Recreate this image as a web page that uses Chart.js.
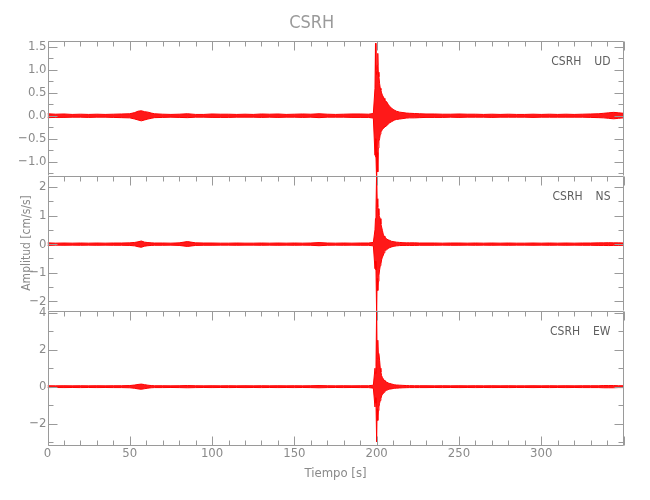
<!DOCTYPE html>
<html>
<head>
<meta charset="utf-8">
<script src="https://cdn.jsdelivr.net/npm/chart.js@4/dist/chart.umd.min.js"></script>
<style>
  html, body { margin: 0; padding: 0; background: #ffffff; }
  #wrap { position: relative; width: 650px; height: 500px; }
  #wrap canvas { position: absolute; left: 0; top: 0; }
</style>
</head>
<body>
<div id="wrap">
  <canvas id="c1" width="650" height="500"></canvas>
  <canvas id="c2" width="650" height="500"></canvas>
  <canvas id="c3" width="650" height="500"></canvas>
</div>
<script>
// ---------- DATA ----------
const station = 'CSRH';
const components = ['UD', 'NS', 'EW'];

// time samples [s] (envelope sampling of the trace)
const times = [
  0,5,10,15,20,25,30,35,40,45,
  50,53,55,57,59,61,63,65,70,75,
  80,85,90,95,100,105,110,115,120,125,
  130,135,140,145,150,155,160,165,170,175,
  180,185,190,195,198,199,199.3,199.6,200,200.3,
  200.7,201,201.4,201.8,202.2,202.6,203,203.5,204,204.5,
  205,206,207,208,209,210,211,212,214,216,
  218,220,223,226,230,235,240,245,250,255,
  260,265,270,275,280,285,290,295,300,305,
  310,315,320,325,330,335,338,341,344,347,
  350
];

// UD component: upper / lower envelope [cm/s/s]
const udUpper = [
  0.045,0.035,0.04,0.03,0.035,0.03,0.035,0.03,0.035,0.04,
  0.045,0.07,0.1,0.11,0.09,0.08,0.06,0.045,0.035,0.03,
  0.035,0.045,0.03,0.03,0.04,0.035,0.035,0.03,0.035,0.03,
  0.04,0.035,0.04,0.03,0.035,0.04,0.035,0.045,0.035,0.03,
  0.035,0.04,0.04,0.035,0.05,0.6,1.58,1.0,0.9,1.1,
  1.36,0.95,0.85,0.7,0.6,0.56,0.5,0.45,0.42,0.38,
  0.33,0.31,0.25,0.2,0.17,0.14,0.12,0.1,0.08,0.07,
  0.06,0.055,0.05,0.045,0.04,0.04,0.035,0.035,0.04,0.035,
  0.035,0.03,0.035,0.03,0.035,0.03,0.03,0.035,0.03,0.035,
  0.03,0.035,0.03,0.035,0.04,0.045,0.055,0.065,0.075,0.065,
  0.055
];
const udLower = [
  -0.04,-0.035,-0.035,-0.03,-0.03,-0.035,-0.03,-0.03,-0.035,-0.04,
  -0.045,-0.07,-0.09,-0.11,-0.09,-0.07,-0.055,-0.04,-0.035,-0.03,
  -0.035,-0.04,-0.03,-0.03,-0.035,-0.035,-0.035,-0.03,-0.03,-0.03,
  -0.035,-0.03,-0.035,-0.03,-0.03,-0.035,-0.03,-0.04,-0.03,-0.03,
  -0.03,-0.035,-0.035,-0.035,-0.05,-0.86,-0.5,-0.9,-1.45,-0.8,
  -1.22,-0.7,-0.55,-0.5,-0.4,-0.35,-0.33,-0.3,-0.28,-0.25,
  -0.25,-0.22,-0.18,-0.15,-0.13,-0.11,-0.09,-0.08,-0.07,-0.06,
  -0.05,-0.045,-0.045,-0.04,-0.035,-0.035,-0.035,-0.03,-0.035,-0.03,
  -0.03,-0.03,-0.035,-0.03,-0.03,-0.03,-0.03,-0.035,-0.03,-0.03,
  -0.03,-0.03,-0.03,-0.03,-0.035,-0.04,-0.045,-0.055,-0.065,-0.055,
  -0.045
];

// NS component
const nsUpper = [
  0.045,0.035,0.04,0.035,0.04,0.035,0.04,0.035,0.04,0.04,
  0.045,0.06,0.08,0.11,0.07,0.055,0.045,0.04,0.04,0.035,
  0.045,0.09,0.045,0.04,0.04,0.035,0.035,0.04,0.035,0.035,
  0.04,0.035,0.04,0.035,0.04,0.035,0.04,0.055,0.04,0.035,
  0.04,0.035,0.04,0.04,0.06,0.5,0.9,1.2,2.6,1.59,
  1.3,1.24,1.0,0.95,0.89,0.7,0.6,0.48,0.35,0.28,
  0.25,0.18,0.15,0.13,0.1,0.09,0.08,0.07,0.06,0.05,
  0.045,0.045,0.045,0.04,0.04,0.04,0.035,0.04,0.04,0.035,
  0.04,0.035,0.04,0.035,0.04,0.035,0.035,0.04,0.035,0.04,
  0.035,0.04,0.035,0.04,0.04,0.045,0.045,0.05,0.045,0.045,
  0.04
];
const nsLower = [
  -0.045,-0.035,-0.04,-0.035,-0.04,-0.035,-0.04,-0.035,-0.04,-0.04,
  -0.045,-0.06,-0.09,-0.11,-0.07,-0.055,-0.045,-0.04,-0.04,-0.035,
  -0.045,-0.08,-0.045,-0.04,-0.04,-0.035,-0.035,-0.04,-0.035,-0.035,
  -0.04,-0.035,-0.04,-0.035,-0.04,-0.035,-0.04,-0.055,-0.04,-0.035,
  -0.04,-0.035,-0.04,-0.04,-0.06,-0.86,-0.6,-0.9,-2.5,-1.2,
  -1.62,-1.3,-1.09,-0.9,-0.75,-0.69,-0.55,-0.45,-0.4,-0.3,
  -0.22,-0.2,-0.15,-0.12,-0.1,-0.08,-0.07,-0.06,-0.05,-0.045,
  -0.045,-0.045,-0.045,-0.04,-0.04,-0.04,-0.035,-0.04,-0.04,-0.035,
  -0.04,-0.035,-0.04,-0.035,-0.04,-0.035,-0.035,-0.04,-0.035,-0.04,
  -0.035,-0.04,-0.035,-0.04,-0.04,-0.045,-0.045,-0.05,-0.045,-0.045,
  -0.04
];

// EW component
const ewUpper = [
  0.05,0.045,0.05,0.045,0.05,0.045,0.05,0.045,0.05,0.05,
  0.06,0.09,0.12,0.14,0.11,0.08,0.06,0.05,0.05,0.045,
  0.05,0.06,0.05,0.045,0.05,0.045,0.05,0.045,0.05,0.045,
  0.05,0.045,0.05,0.045,0.05,0.045,0.05,0.06,0.05,0.045,
  0.05,0.045,0.05,0.05,0.08,1.0,0.7,1.1,4.3,1.5,
  2.52,1.8,1.79,1.43,1.0,0.79,0.6,0.5,0.43,0.35,
  0.3,0.25,0.2,0.17,0.15,0.12,0.1,0.09,0.08,0.07,
  0.06,0.055,0.05,0.05,0.05,0.045,0.05,0.045,0.05,0.045,
  0.05,0.045,0.05,0.045,0.05,0.045,0.045,0.05,0.045,0.05,
  0.045,0.05,0.045,0.05,0.05,0.05,0.06,0.06,0.06,0.05,
  0.05
];
const ewLower = [
  -0.05,-0.045,-0.05,-0.045,-0.05,-0.045,-0.05,-0.045,-0.05,-0.05,
  -0.06,-0.09,-0.12,-0.14,-0.11,-0.08,-0.06,-0.05,-0.05,-0.045,
  -0.05,-0.06,-0.05,-0.045,-0.05,-0.045,-0.05,-0.045,-0.05,-0.045,
  -0.05,-0.045,-0.05,-0.045,-0.05,-0.045,-0.05,-0.06,-0.05,-0.045,
  -0.05,-0.045,-0.05,-0.05,-0.08,-1.1,-0.6,-0.9,-3.0,-1.2,
  -1.83,-1.3,-1.1,-0.9,-0.75,-0.65,-0.5,-0.42,-0.38,-0.3,
  -0.25,-0.2,-0.16,-0.13,-0.12,-0.1,-0.09,-0.08,-0.07,-0.06,
  -0.055,-0.05,-0.05,-0.05,-0.05,-0.045,-0.05,-0.045,-0.05,-0.045,
  -0.05,-0.045,-0.05,-0.045,-0.05,-0.045,-0.045,-0.05,-0.045,-0.05,
  -0.045,-0.05,-0.045,-0.05,-0.05,-0.05,-0.06,-0.06,-0.06,-0.05,
  -0.05
];

// tick labels
const timeTicks = [0, 50, 100, 150, 200, 250, 300];
const udTicks = [-1.0, -0.5, 0.0, 0.5, 1.0, 1.5];
const nsTicks = [-2, -1, 0, 1, 2];
const ewTicks = [-2, 0, 2, 4];

// ---------- STYLE ----------
const FONT = '"DejaVu Sans Condensed", "Liberation Sans", sans-serif';
const AXIS_COLOR = '#9a9a9a';
const TEXT_COLOR = '#8a8a8a';
const LABEL_COLOR = '#5e5e5e';
const TRACE = '#ff0000';
const LEFT_W = 47.5, RIGHT_PAD = 26.5;

const fmtDec = v => (v < 0 ? '\u2212' : '') + Math.abs(v).toFixed(1);
const fmtInt = v => (v < 0 ? '\u2212' : '') + Math.abs(v).toFixed(0);

const framePlugin = {
  id: 'frame',
  afterDatasetsDraw(chart, args, o) {
    const {ctx, chartArea: a, scales: {x, y}} = chart;
    ctx.save();
    ctx.strokeStyle = AXIS_COLOR;
    ctx.lineWidth = 1;
    const L = Math.round(a.left) + 0.5, R = Math.round(a.right) - 0.5;
    const T = Math.round(a.top) + 0.5, B = Math.round(a.bottom) - 0.5;
    ctx.beginPath();
    ctx.moveTo(L, T); ctx.lineTo(R, T); ctx.lineTo(R, B);
    if (o.bottomTicks) ctx.lineTo(L, B); else ctx.moveTo(L, B);
    ctx.lineTo(L, T);
    // x ticks: minor every 10 s, major every 50 s
    for (let v = 0; v <= 350; v += 10) {
      const px = Math.round(x.getPixelForValue(v)) + 0.5;
      const len = (v % 50 === 0) ? 9 : 5;
      ctx.moveTo(px, T); ctx.lineTo(px, T + len);
      if (o.bottomTicks) { ctx.moveTo(px, B); ctx.lineTo(px, B - len); }
    }
    // y ticks
    const kMin = Math.ceil(y.min / o.minor - 1e-9), kMax = Math.floor(y.max / o.minor + 1e-9);
    for (let k = kMin; k <= kMax; k++) {
      const v = k * o.minor;
      const py = Math.round(y.getPixelForValue(v)) + 0.5;
      const major = o.majors.some(m => Math.abs(m - v) < 1e-6);
      const len = major ? 9 : 5;
      ctx.moveTo(L, py); ctx.lineTo(L + len, py);
      ctx.moveTo(R, py); ctx.lineTo(R - len, py);
    }
    ctx.stroke();
    // component label, e.g. "CSRH   UD"
    ctx.fillStyle = LABEL_COLOR;
    ctx.font = '12px ' + FONT;
    ctx.textBaseline = 'middle';
    ctx.textAlign = 'right';
    const xr = a.right - 13;
    ctx.fillText(o.comp, xr, a.top + 21);
    const w = ctx.measureText(o.comp).width;
    ctx.fillText(station, xr - w - 13, a.top + 21);
    ctx.restore();
  }
};

function makePanel(id, cfg) {
  const up = times.map((t, i) => ({x: t, y: cfg.upper[i]}));
  const lo = times.map((t, i) => ({x: t, y: cfg.lower[i]}));
  return new Chart(document.getElementById(id), {
    type: 'line',
    data: {
      datasets: [
        {label: cfg.comp + ' max', data: up, borderColor: TRACE, backgroundColor: 'rgba(255,0,0,0.9)',
         borderWidth: 1, pointRadius: 0, tension: 0, fill: '+1'},
        {label: cfg.comp + ' min', data: lo, borderColor: TRACE, backgroundColor: 'rgba(255,0,0,0.9)',
         borderWidth: 1, pointRadius: 0, tension: 0, fill: false}
      ]
    },
    options: {
      responsive: false,
      animation: false,
      events: [],
      layout: {padding: {left: 0, right: RIGHT_PAD, top: cfg.padTop, bottom: 0}},
      plugins: {
        legend: {display: false},
        tooltip: {enabled: false},
        title: cfg.title ? {
          display: true, text: station, color: AXIS_COLOR,
          font: {family: FONT, size: 18, weight: 'normal'},
          padding: {top: 12.2, bottom: 6.7}
        } : {display: false},
        frame: {minor: cfg.minor, majors: cfg.ticks, comp: cfg.comp, bottomTicks: cfg.bottomTicks}
      },
      scales: {
        x: {
          type: 'linear', min: 0, max: 350,
          grid: {display: false, drawTicks: false}, border: {display: false},
          afterBuildTicks: s => { s.ticks = timeTicks.map(v => ({value: v})); },
          afterFit: s => { s.height = 500 - cfg.bottom; },
          ticks: {display: cfg.xLabels, color: TEXT_COLOR, padding: 0, maxRotation: 0, autoSkip: false,
                  font: {family: FONT, size: 13}},
          title: cfg.xLabels ? {display: true, text: 'Tiempo [s]', color: TEXT_COLOR,
                  font: {family: FONT, size: 13}, padding: {top: 0, bottom: 19}} : {display: false}
        },
        y: {
          type: 'linear', min: cfg.min, max: cfg.max,
          grid: {display: false, drawTicks: false}, border: {display: false},
          afterBuildTicks: s => { s.ticks = cfg.ticks.map(v => ({value: v})); },
          afterFit: s => { s.width = LEFT_W; },
          ticks: {color: TEXT_COLOR, padding: 1, autoSkip: false, callback: cfg.fmt,
                  font: {family: FONT, size: 13}},
          title: cfg.yTitle ? {display: true, text: 'Amplitud [cm/s/s]', color: TEXT_COLOR,
                  font: {family: FONT, size: 12}, padding: {top: 20, bottom: 0}} : {display: false}
        }
      }
    },
    plugins: [framePlugin]
  });
}

makePanel('c1', {comp: components[0], upper: udUpper, lower: udLower, ticks: udTicks, minor: 0.25,
  min: -1.3, max: 1.64, fmt: fmtDec, padTop: 0, title: true, bottom: 175.5, xLabels: false, bottomTicks: false});
makePanel('c2', {comp: components[1], upper: nsUpper, lower: nsLower, ticks: nsTicks, minor: 0.5,
  min: -2.32, max: 2.4, fmt: fmtInt, padTop: 175.5, title: false, bottom: 310.5, xLabels: false, bottomTicks: false, yTitle: true});
makePanel('c3', {comp: components[2], upper: ewUpper, lower: ewLower, ticks: ewTicks, minor: 1,
  min: -3.19, max: 4.13, fmt: fmtInt, padTop: 310.5, title: false, bottom: 445.5, xLabels: true, bottomTicks: true});
</script>
</body>
</html>
